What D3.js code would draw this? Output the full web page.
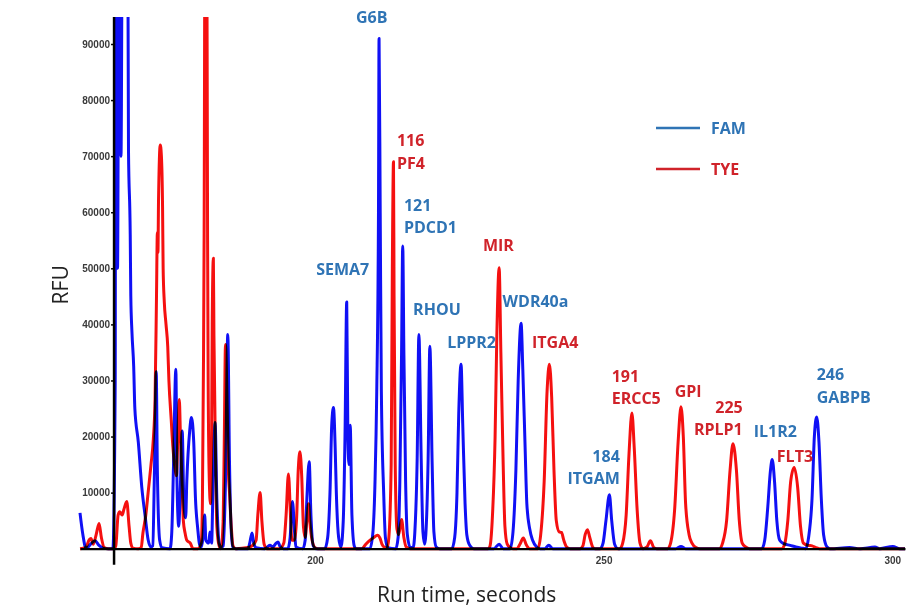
<!DOCTYPE html>
<html><head><meta charset="utf-8">
<script src="https://cdn.jsdelivr.net/npm/d3@7"></script>
<style>
html,body{margin:0;padding:0;background:#fff;}
svg{display:block;}
</style></head><body>
<svg id="chart" width="910" height="607"></svg>
<script>
// ---- DATA (run time in seconds, fluorescence in RFU) ----
const famTrace = [
[159.3,6400],[159.8,2500],[160.3,200],[160.7,300],[161.2,900],[161.9,1400],[162.6,600],[163.3,100],[164.2,0],[165.0,0],
[165.4,30000],[165.5,130000],[165.8,50000],[166.1,130000],[166.4,70000],[166.7,130000],[167.5,130000],[167.7,71000],
[168.0,56000],[168.1,45000],[168.3,38600],[168.6,32500],[168.8,25000],[169.4,19000],[170.0,11000],[170.6,5700],[171.1,1600],
[171.6,300],[171.9,500],[172.2,14000],[172.5,31600],[172.7,14000],[173.1,1500],[173.5,200],[174.9,0],[175.2,3000],[175.5,15000],
[175.9,32000],[176.1,12000],[176.4,4000],[176.6,8000],[177.0,21000],[177.3,8000],[177.6,5500],[177.8,12000],[178.3,21000],
[178.6,23400],[179.0,19000],[179.3,9000],[179.7,3500],[180.0,800],[180.3,300],[180.6,2000],[180.9,6000],[181.1,1500],
[181.6,1000],[181.8,3000],[182.1,1000],[182.3,9000],[182.7,22500],[183.0,9000],[183.4,1000],[183.7,200],[184.1,500],
[184.5,12000],[184.9,38200],[185.2,15000],[185.5,3000],[185.8,200],[186.3,0],[188.4,0],[188.7,1000],[189.1,2800],[189.4,1000],
[189.8,200],[191.3,0],[192.2,600],[192.7,300],[193.2,900],[193.6,1200],[193.9,500],[194.5,0],[195.3,0],[195.7,2000],[196.1,8400],
[196.5,2500],[196.7,300],[197.9,0],[198.3,1500],[198.6,9000],[199.0,15500],[199.3,6000],[199.7,500],[200.2,0],[201.7,0],
[202.2,2000],[202.6,10000],[202.9,22000],[203.2,25200],[203.5,18000],[203.7,10000],[204.1,2000],[204.5,300],[204.9,5000],
[205.2,20000],[205.5,44000],[205.7,20000],[205.9,15000],[206.1,22000],[206.4,6000],[206.8,500],[207.1,0],[209.5,0],[210.0,2500],
[210.4,12000],[210.7,28000],[211.0,60000],[211.1,91000],[211.3,60000],[211.5,28000],[211.9,10000],[212.2,2000],[212.6,200],
[214.0,0],[214.4,2000],[214.7,12000],[215.0,35000],[215.2,54000],[215.4,35000],[215.7,12000],[216.0,2500],[216.5,200],[217.0,200],
[217.3,3000],[217.7,16000],[218.0,38200],[218.4,16000],[218.7,3000],[219.0,800],[219.2,2500],[219.6,16000],[219.9,36100],
[220.3,15000],[220.6,3000],[221.0,300],[221.6,0],[223.7,0],[224.2,2000],[224.6,10000],[224.9,24000],[225.3,32900],[225.6,22000],
[226.0,8000],[226.3,2500],[226.8,600],[227.5,0],[231.0,0],[231.9,800],[232.6,0],[233.8,0],[234.3,3000],[234.8,14000],[235.2,30000],
[235.7,40200],[236.0,32000],[236.4,18000],[236.7,8000],[237.2,3500],[237.7,1500],[238.4,300],[239.0,0],[239.8,0],[240.5,600],
[241.2,0],[249.4,0],[249.9,1000],[250.4,5000],[251.0,9600],[251.4,5000],[251.9,800],[252.5,0],[262.5,0],[263.4,400],[264.2,0],
[277.4,0],[277.9,1500],[278.4,7000],[278.9,14000],[279.2,15900],[279.6,12000],[280.0,5000],[280.5,1500],[281.2,900],[282.3,600],
[283.3,300],[284.3,100],[285.0,0],[285.5,2000],[286.1,9000],[286.5,20000],[286.9,23500],[287.3,19000],[287.7,9000],[288.1,2500],
[288.7,300],[289.2,0],[292.6,200],[294.4,0],[297.0,300],[297.8,0],[300.1,400],[301.3,0],[302.2,0]
];
const tyeTrace = [
[159.3,0],[160.3,200],[160.9,1600],[161.2,1800],[161.6,800],[162.1,2500],[162.6,4500],[163.0,2000],[163.5,200],[164.2,0],
[165.2,0],[165.5,500],[165.9,6000],[166.2,6600],[166.6,6000],[166.9,7000],[167.4,8400],[167.8,4000],[168.1,1000],[168.5,100],
[169.4,0],[169.9,200],[170.2,2800],[170.7,6000],[171.1,10000],[171.6,15000],[172.0,19500],[172.3,26600],[172.55,45000],
[172.7,56400],[172.8,52800],[172.9,62000],[173.2,72000],[173.4,70000],[173.6,61000],[173.7,50000],[173.9,44000],[174.2,40000],
[174.5,36000],[174.7,30000],[175.1,23000],[175.4,18000],[175.8,14000],[176.0,13000],[176.3,22000],[176.5,26600],[176.7,20000],
[177.0,11000],[177.2,5000],[177.5,2800],[177.8,1500],[178.4,1000],[178.9,0],[179.7,0],[180.3,1000],[180.5,8000],[180.7,35000],
[180.8,56000],[181.0,130000],[181.2,130000],[181.4,55000],[181.5,30000],[181.7,12000],[181.9,8000],[182.1,20000],[182.2,40000],
[182.4,51800],[182.5,38000],[182.8,15000],[183.0,4000],[183.4,500],[183.7,0],[184.1,5000],[184.3,20000],[184.5,36400],
[184.8,25000],[185.0,14000],[185.2,10000],[185.5,4000],[185.8,500],[186.3,0],[188.4,200],[189.1,500],[189.8,1500],[190.1,6000],
[190.5,10000],[190.8,5000],[191.2,800],[191.7,0],[193.9,0],[194.6,1000],[195.0,6000],[195.4,13300],[195.8,5000],[196.0,1500],
[196.4,1500],[196.8,5000],[197.1,14000],[197.4,17300],[197.7,13000],[198.0,4000],[198.3,2000],[198.6,5000],[198.9,8000],
[199.1,5000],[199.5,1500],[200.0,200],[200.5,0],[208.1,0],[208.8,800],[209.5,1500],[210.2,2000],[210.8,2400],[211.3,1800],
[211.6,800],[212.1,200],[212.5,100],[212.8,2000],[213.2,15000],[213.4,50000],[213.6,69000],[213.7,45000],[213.9,15000],
[214.2,3500],[214.5,2500],[215.0,5200],[215.4,2000],[215.8,300],[216.5,0],[230.0,0],[230.3,400],[230.7,5000],[231.2,20000],
[231.5,38000],[231.9,50100],[232.2,35000],[232.6,15000],[232.9,4000],[233.3,800],[233.8,200],[234.3,0],[235.0,0],[235.5,800],
[236.1,1900],[236.6,700],[237.2,0],[238.6,0],[239.1,2500],[239.7,12000],[240.2,28000],[240.6,32900],[241.0,27000],[241.4,14000],
[241.8,5000],[242.3,3000],[242.7,2900],[243.1,1500],[243.6,300],[244.2,0],[245.9,0],[246.4,500],[246.8,2500],[247.2,3400],
[247.6,2000],[248.1,300],[248.5,0],[252.8,0],[253.3,1000],[253.9,6000],[254.4,17000],[254.9,24200],[255.3,18000],[255.8,7000],
[256.3,1000],[256.8,0],[257.5,300],[258.1,1400],[258.7,200],[259.2,0],[261.1,0],[261.6,1000],[262.3,7000],[262.9,19000],
[263.4,25300],[263.8,20000],[264.2,8000],[264.8,2500],[265.3,1000],[266.0,200],[266.7,0],[270.1,0],[270.6,1000],[271.3,5000],
[271.9,14000],[272.4,18700],[273.0,14000],[273.5,5000],[274.0,1000],[274.6,300],[275.3,0],[280.9,0],[281.4,1000],[281.9,5000],
[282.4,12000],[283.0,14500],[283.6,11000],[284.1,4000],[284.6,1000],[285.4,600],[286.1,500],[286.8,200],[287.4,0],[302.2,0]
];
const xTicks = [200, 250, 300];
const yTicks = [10000, 20000, 30000, 40000, 50000, 60000, 70000, 80000, 90000];
const dyes = ["FAM", "TYE"];
// peak annotations: text lines, dye, anchor point (time, RFU)
const peakLabels = [
  {lines:["G6B"], dye:"FAM", t:207.1, v:93740, anchor:"start"},
  {lines:["116","PF4"], dye:"TYE", t:214.2, v:71810, anchor:"start"},
  {lines:["121","PDCD1"], dye:"FAM", t:215.4, v:60220, anchor:"start"},
  {lines:["MIR"], dye:"TYE", t:229.1, v:53090, anchor:"start"},
  {lines:["SEMA7"], dye:"FAM", t:200.2, v:48810, anchor:"start"},
  {lines:["WDR40a"], dye:"FAM", t:232.5, v:43100, anchor:"start"},
  {lines:["RHOU"], dye:"FAM", t:217.0, v:41670, anchor:"start"},
  {lines:["LPPR2"], dye:"FAM", t:222.9, v:35790, anchor:"start"},
  {lines:["ITGA4"], dye:"TYE", t:237.6, v:35790, anchor:"start"},
  {lines:["184","ITGAM"], dye:"FAM", t:252.8, v:15510, anchor:"end"},
  {lines:["191","ERCC5"], dye:"TYE", t:251.4, v:29730, anchor:"start"},
  {lines:["GPI"], dye:"TYE", t:262.3, v:27050, anchor:"start"},
  {lines:["225","RPLP1"], dye:"TYE", t:274.1, v:24200, anchor:"end"},
  {lines:["IL1R2"], dye:"FAM", t:276.0, v:19920, anchor:"start"},
  {lines:["FLT3"], dye:"TYE", t:280.0, v:15460, anchor:"start"},
  {lines:["246","GABPB"], dye:"FAM", t:286.9, v:30080, anchor:"start"}
];
const xDomain = [159.3, 302.2];
const yAxisAt = 165.2;

// ---- STYLE ----
const traceColor = {FAM:"#1010f5", TYE:"#f51010"};
const textColor = {FAM:"#2f74b5", TYE:"#d0232a"};

const svg = d3.select("#chart");
svg.append("rect").attr("width",910).attr("height",607).attr("fill","#fff");

const x = d3.scaleLinear().domain(xDomain).range([80, 905]);
const y = d3.scaleLinear().domain([0, 90000]).range([548.7, 44]);
const yTopVisible = y.invert(17);

svg.append("defs").append("clipPath").attr("id","plotclip")
  .append("rect").attr("x", x(xDomain[0])-2).attr("y", y(yTopVisible))
  .attr("width", x(xDomain[1]) - x(xDomain[0]) + 4).attr("height", 600);

// traces
const line = d3.line().x(d => x(d[0])).y(d => y(d[1])).curve(d3.curveMonotoneX);
const traces = svg.append("g").attr("clip-path","url(#plotclip)");
[["TYE", tyeTrace], ["FAM", famTrace]].forEach(([dye, data]) => {
  traces.append("path").datum(data).attr("d", line)
    .attr("fill","none").attr("stroke", traceColor[dye]).attr("stroke-width",3)
    .attr("stroke-linejoin","round").style("mix-blend-mode","multiply");
});

// x axis (drawn over the traces, like the dark baseline of the original)
const xg = svg.append("g").attr("transform", `translate(0,${y(0)})`)
  .call(d3.axisBottom(x).tickValues(xTicks).tickSize(0).tickSizeOuter(0).tickPadding(8).tickFormat(d3.format("d")));
xg.select(".domain").attr("stroke","#000").attr("stroke-width",2.2);
xg.selectAll("text").attr("font-family","Liberation Sans, Arial, sans-serif").attr("font-size",10)
  .attr("font-weight","bold").attr("fill","#3a3a3a");

// y axis
const yg = svg.append("g").attr("transform", `translate(${x(yAxisAt)},0)`)
  .call(d3.axisLeft(y).tickValues(yTicks).tickSize(3).tickPadding(1).tickFormat(d3.format("d")));
yg.select(".domain").remove();
yg.selectAll(".tick line").attr("stroke","#000").attr("stroke-width",1.5);
yg.selectAll("text").attr("font-family","Liberation Sans, Arial, sans-serif").attr("font-size",10)
  .attr("font-weight","bold").attr("fill","#3a3a3a");
yg.append("line").attr("x1",0).attr("x2",0).attr("y1", y(yTopVisible)).attr("y2", y(0)+16)
  .attr("stroke","#000").attr("stroke-width",2.5);

// axis titles
svg.append("text").attr("transform",`translate(68,${(y(yTopVisible)+y(0))/2 + 2}) rotate(-90)`)
  .attr("text-anchor","middle").attr("font-family","Open Sans, sans-serif").attr("font-size",21)
  .attr("fill","#222").text("RFU");
svg.append("text").attr("x", 466.7).attr("y", 601.5)
  .attr("text-anchor","middle").attr("font-family","Open Sans, sans-serif").attr("font-size",21)
  .attr("fill","#222").text("Run time, seconds");

// peak labels
const lg = svg.append("g").attr("font-family","Open Sans, sans-serif").attr("font-weight","bold").attr("font-size",16);
peakLabels.forEach(p => {
  const t = lg.append("text").attr("x", x(p.t)).attr("y", y(p.v))
    .attr("text-anchor", p.anchor).attr("fill", textColor[p.dye]);
  p.lines.forEach((s,i) => {
    t.append("tspan").attr("x", x(p.t)).attr("dy", i === 0 ? 0 : 22.5).text(s);
  });
});

// legend
const leg = svg.append("g").attr("transform","translate(656,128)");
dyes.forEach((d,i) => {
  const row = leg.append("g").attr("transform", `translate(0,${i*41})`);
  row.append("line").attr("x1",0).attr("x2",44).attr("y1",0).attr("y2",0)
    .attr("stroke", textColor[d]).attr("stroke-width",2.5);
  row.append("text").attr("x",55).attr("y",6.3).attr("font-family","Open Sans, sans-serif")
    .attr("font-weight","bold").attr("font-size",16).attr("fill", textColor[d]).text(d);
});
</script>
</body></html>
